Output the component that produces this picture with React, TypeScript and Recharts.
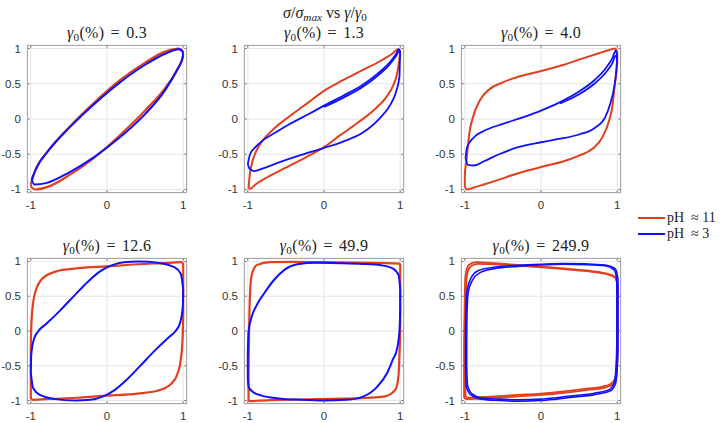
import { CartesianGrid, Line, LineChart, XAxis, YAxis } from "recharts";

type Pt = [number, number];

const amplitudes = ["0.3", "1.3", "4.0", "12.6", "49.9", "249.9"];
const seriesNames = ["pH \u2248 11", "pH \u2248 3"];
const xTicks = [-1, 0, 1];
const yTicks = [-1, -0.5, 0, 0.5, 1];

// pH ≈ 11 (red) / pH ≈ 3 (blue); each loop split into strain-up and strain-down branches
const hi03Up: Pt[] = [[-1, -0.93], [-0.94, -0.73], [-0.77, -0.45], [-0.5, -0.12], [-0.17, 0.23], [0.17, 0.55], [0.5, 0.8], [0.77, 0.96], [0.94, 1], [0.99, 0.97], [1, 0.93]];
const hi03Down: Pt[] = [[1, 0.93], [0.99, 0.85], [0.94, 0.73], [0.77, 0.45], [0.5, 0.12], [0.17, -0.23], [-0.17, -0.55], [-0.5, -0.8], [-0.77, -0.96], [-0.94, -1], [-0.99, -0.97], [-1, -0.93]];
const lo03Up: Pt[] = [[-0.99, -0.86], [-0.93, -0.7], [-0.77, -0.45], [-0.5, -0.13], [-0.17, 0.21], [0.17, 0.52], [0.5, 0.77], [0.77, 0.93], [0.94, 0.99], [0.99, 0.96], [1, 0.9]];
const lo03Down: Pt[] = [[1, 0.9], [0.98, 0.83], [0.93, 0.72], [0.77, 0.42], [0.5, 0.07], [0.17, -0.26], [-0.17, -0.54], [-0.5, -0.76], [-0.8, -0.91], [-0.95, -0.93], [-0.99, -0.86]];

const hi13Up: Pt[] = [[-0.99, -0.99], [-0.98, -0.85], [-0.95, -0.65], [-0.9, -0.48], [-0.8, -0.3], [-0.65, -0.13], [-0.45, 0.04], [-0.2, 0.24], [0, 0.4], [0.25, 0.55], [0.5, 0.69], [0.75, 0.83], [0.9, 0.93], [0.97, 0.99], [1, 0.97]];
const hi13Down: Pt[] = [[1, 0.97], [0.99, 0.85], [0.96, 0.65], [0.91, 0.48], [0.81, 0.3], [0.66, 0.13], [0.46, -0.04], [0.2, -0.24], [0, -0.4], [-0.25, -0.55], [-0.5, -0.69], [-0.75, -0.83], [-0.9, -0.93], [-0.97, -0.99], [-0.99, -0.99]];
const lo13Up: Pt[] = [[-1, -0.64], [-0.97, -0.5], [-0.9, -0.4], [-0.8, -0.3], [-0.65, -0.2], [-0.45, -0.07], [-0.2, 0.07], [0, 0.19], [0.25, 0.33], [0.5, 0.48], [0.7, 0.64], [0.85, 0.79], [0.95, 0.93], [0.98, 0.99], [1, 0.95]];
const lo13Down: Pt[] = [[1, 0.95], [0.995, 0.8], [0.99, 0.6], [0.95, 0.4], [0.87, 0.2], [0.74, 0.02], [0.5, -0.2], [0.25, -0.32], [0, -0.41], [-0.3, -0.51], [-0.6, -0.62], [-0.8, -0.7], [-0.92, -0.74], [-0.98, -0.7], [-1, -0.64]];
const lo13Up2: Pt[] = [[0, 0.17], [0.25, 0.3], [0.5, 0.45], [0.7, 0.61], [0.85, 0.76], [0.95, 0.9], [0.99, 0.97], [1, 0.95]];

const hi40Up: Pt[] = [[-1, -0.96], [-1, -0.8], [-0.98, -0.6], [-0.96, -0.4], [-0.94, -0.2], [-0.9, 0], [-0.8, 0.27], [-0.68, 0.42], [-0.5, 0.52], [-0.3, 0.6], [0, 0.68], [0.3, 0.77], [0.55, 0.86], [0.75, 0.93], [0.9, 0.98], [0.97, 1], [1, 0.96]];
const hi40Down: Pt[] = [[1, 0.96], [1, 0.8], [0.98, 0.6], [0.96, 0.4], [0.94, 0.2], [0.9, 0], [0.8, -0.27], [0.68, -0.42], [0.5, -0.52], [0.3, -0.6], [0, -0.68], [-0.3, -0.77], [-0.55, -0.86], [-0.75, -0.93], [-0.9, -0.98], [-0.97, -1], [-1, -0.96]];
const lo40Up: Pt[] = [[-0.99, -0.55], [-0.97, -0.4], [-0.9, -0.28], [-0.75, -0.17], [-0.5, -0.07], [-0.25, 0.02], [0, 0.12], [0.25, 0.24], [0.5, 0.39], [0.7, 0.55], [0.85, 0.72], [0.94, 0.87], [0.98, 0.97], [1, 0.9]];
const lo40Down: Pt[] = [[1, 0.9], [0.99, 0.7], [0.96, 0.45], [0.91, 0.22], [0.84, 0.02], [0.7, -0.13], [0.5, -0.22], [0.25, -0.28], [0, -0.33], [-0.3, -0.4], [-0.55, -0.5], [-0.75, -0.6], [-0.88, -0.66], [-0.96, -0.65], [-0.99, -0.55]];
const lo40Up2: Pt[] = [[0.25, 0.22], [0.5, 0.35], [0.7, 0.5], [0.85, 0.66], [0.94, 0.8], [0.98, 0.9], [1, 0.86]];

const hi126Up: Pt[] = [[-1, -0.98], [-1, -0.6], [-1, -0.2], [-0.99, 0.15], [-0.97, 0.4], [-0.93, 0.6], [-0.85, 0.75], [-0.66, 0.86], [-0.4, 0.9], [0, 0.93], [0.4, 0.96], [0.8, 0.98], [0.96, 0.99], [1, 0.98]];
const hi126Down: Pt[] = [[1, 0.98], [1, 0.6], [1, 0.2], [0.99, -0.15], [0.97, -0.4], [0.93, -0.6], [0.85, -0.75], [0.66, -0.86], [0.4, -0.9], [0, -0.93], [-0.4, -0.96], [-0.8, -0.98], [-0.96, -0.99], [-1, -0.98]];
const lo126Up: Pt[] = [[-1, -0.6], [-0.995, -0.35], [-0.96, -0.12], [-0.9, 0], [-0.8, 0.1], [-0.62, 0.29], [-0.42, 0.52], [-0.24, 0.72], [-0.1, 0.85], [0.05, 0.94], [0.22, 0.99], [0.42, 1], [0.68, 0.98], [0.88, 0.92], [0.97, 0.82], [1, 0.6]];
const lo126Down: Pt[] = [[1, 0.6], [0.995, 0.35], [0.96, 0.12], [0.9, 0], [0.8, -0.1], [0.62, -0.29], [0.42, -0.52], [0.24, -0.72], [0.1, -0.85], [-0.05, -0.94], [-0.22, -0.99], [-0.42, -1], [-0.68, -0.98], [-0.88, -0.92], [-0.97, -0.82], [-1, -0.6]];

const hi499Up: Pt[] = [[-0.99, -1.01], [-0.99, -0.6], [-0.985, -0.2], [-0.98, 0.2], [-0.97, 0.55], [-0.95, 0.8], [-0.88, 0.95], [-0.7, 0.99], [-0.4, 0.995], [0, 0.99], [0.4, 0.985], [0.8, 0.975], [1, 0.97]];
const hi499Down: Pt[] = [[1, 0.97], [1, 0.7], [1, 0.35], [1, 0], [0.99, -0.35], [0.98, -0.62], [0.94, -0.84], [0.8, -0.94], [0.5, -0.965], [0.1, -0.975], [-0.3, -0.985], [-0.7, -0.995], [-0.99, -1.01]];
const lo499Up: Pt[] = [[-1, -0.7], [-1, -0.35], [-0.99, 0], [-0.95, 0.2], [-0.88, 0.38], [-0.78, 0.55], [-0.66, 0.73], [-0.52, 0.88], [-0.35, 0.96], [-0.1, 0.98], [0.2, 0.975], [0.5, 0.965], [0.75, 0.945], [0.9, 0.9], [0.98, 0.8], [1, 0.6]];
const lo499Down: Pt[] = [[1, 0.6], [1, 0.3], [0.99, 0], [0.96, -0.25], [0.9, -0.42], [0.83, -0.6], [0.7, -0.8], [0.52, -0.94], [0.3, -0.99], [0, -1], [-0.3, -0.99], [-0.6, -0.97], [-0.82, -0.93], [-0.94, -0.87], [-0.99, -0.8], [-1, -0.7]];

const hi2499Up: Pt[] = [[-1.01, -0.96], [-1.01, -0.6], [-1.01, -0.2], [-1.005, 0.2], [-1, 0.55], [-0.99, 0.8], [-0.95, 0.95], [-0.85, 0.99], [-0.6, 0.975], [-0.3, 0.95], [0, 0.925], [0.3, 0.9], [0.6, 0.87], [0.85, 0.83], [0.97, 0.78], [1.01, 0.65]];
const hi2499Down: Pt[] = [[1.01, 0.65], [1.01, 0.3], [1.01, -0.05], [1.005, -0.4], [0.99, -0.65], [0.95, -0.76], [0.85, -0.81], [0.6, -0.85], [0.3, -0.89], [0, -0.92], [-0.3, -0.94], [-0.6, -0.96], [-0.85, -0.975], [-0.97, -0.98], [-1.01, -0.96]];
const hi2499Up2: Pt[] = [[-0.99, -0.95], [-0.995, -0.6], [-0.995, -0.2], [-0.99, 0.2], [-0.985, 0.55], [-0.975, 0.78], [-0.93, 0.92], [-0.83, 0.965], [-0.6, 0.96], [-0.3, 0.94], [0, 0.915], [0.3, 0.89], [0.6, 0.86], [0.85, 0.82], [0.97, 0.77], [1.01, 0.65]];
const hi2499Down2: Pt[] = [[1.01, 0.65], [1.01, 0.3], [1.01, -0.05], [1, -0.4], [0.985, -0.63], [0.94, -0.74], [0.85, -0.79], [0.6, -0.83], [0.3, -0.87], [0, -0.9], [-0.3, -0.92], [-0.6, -0.94], [-0.85, -0.955], [-0.96, -0.96], [-0.99, -0.95]];
const lo2499Up: Pt[] = [[-0.99, -0.5], [-0.99, -0.1], [-0.985, 0.3], [-0.97, 0.58], [-0.92, 0.76], [-0.82, 0.87], [-0.6, 0.92], [-0.3, 0.945], [0, 0.96], [0.3, 0.97], [0.6, 0.965], [0.84, 0.95], [0.97, 0.9], [1.01, 0.75], [1.01, 0.5]];
const lo2499Down: Pt[] = [[1.01, 0.5], [1.01, 0.15], [1.01, -0.2], [1, -0.5], [0.98, -0.75], [0.91, -0.86], [0.7, -0.915], [0.45, -0.95], [0.2, -0.98], [0, -1], [-0.3, -1.01], [-0.55, -1], [-0.78, -0.98], [-0.92, -0.92], [-0.98, -0.8], [-0.99, -0.5]];
const lo2499Up2: Pt[] = [[-0.975, -0.5], [-0.975, -0.1], [-0.97, 0.3], [-0.955, 0.56], [-0.9, 0.73], [-0.8, 0.84], [-0.6, 0.9], [-0.3, 0.93], [0, 0.95], [0.3, 0.96], [0.6, 0.955], [0.84, 0.94], [0.96, 0.88], [0.995, 0.74], [0.995, 0.5]];
const lo2499Down2: Pt[] = [[0.995, 0.5], [0.995, 0.15], [0.995, -0.2], [0.985, -0.5], [0.965, -0.73], [0.9, -0.84], [0.7, -0.895], [0.45, -0.93], [0.2, -0.96], [0, -0.98], [-0.3, -0.99], [-0.55, -0.98], [-0.78, -0.96], [-0.91, -0.9], [-0.965, -0.78], [-0.975, -0.5]];

const RED = "#e2401c";
const BLUE = "#1010ff";
const BOX_W = 160;
const PAD_L = 30;
const PAD_T = 2;
const PAD_B = 24;
const DOMAIN: [number, number] = [-1.05, 1.05];
const cols = [27, 244, 461];
const rows = [{ top: 45, h: 148 }, { top: 258, h: 146 }];

const panels = [
  { red: [hi03Up, hi03Down], blue: [lo03Up, lo03Down], w: 2 },
  { red: [hi13Up, hi13Down], blue: [lo13Up, lo13Down, lo13Up2], w: 1.8 },
  { red: [hi40Up, hi40Down], blue: [lo40Up, lo40Down, lo40Up2], w: 1.8 },
  { red: [hi126Up, hi126Down], blue: [lo126Up, lo126Down], w: 2 },
  { red: [hi499Up, hi499Down], blue: [lo499Up, lo499Down], w: 2 },
  { red: [hi2499Up, hi2499Down, hi2499Up2, hi2499Down2], blue: [lo2499Up, lo2499Down, lo2499Up2, lo2499Down2], w: 1.6 },
];

const toRows = (pts: Pt[]) => pts.map(([x, y]) => ({ x, y }));
const serif = '"Liberation Serif", "Times New Roman", serif';
const sans = '"Liberation Sans", Arial, sans-serif';
const subStyle = { fontSize: "0.7em", position: "relative" as const, top: "0.25em" };

function AmpTitle({ amp }: { amp: string }) {
  return (
    <span style={{ wordSpacing: 2 }}>
      <i>γ</i>
      <span style={subStyle}>0</span>
      (%) = {amp}
    </span>
  );
}

function Panel({ left, top, h, red, blue, amp, w }: any) {
  const XTick = ({ x, y, payload }: any) => (
    <g>
      <line x1={x} x2={x} y1={y} y2={y - 2.5} stroke="#666" />
      <line x1={x} x2={x} y1={y - h} y2={y - h + 2.5} stroke="#666" />
      <text x={x} y={y + 16} textAnchor="middle" fontSize={11.5} fontFamily={sans} fill="#333">
        {payload.value}
      </text>
    </g>
  );
  const YTick = ({ x, y, payload }: any) => (
    <g>
      <line x1={x} x2={x + 2.5} y1={y} y2={y} stroke="#666" />
      <line x1={x + BOX_W} x2={x + BOX_W - 2.5} y1={y} y2={y} stroke="#666" />
      <text x={x - 6} y={y + 4} textAnchor="end" fontSize={11.5} fontFamily={sans} fill="#333">
        {payload.value}
      </text>
    </g>
  );
  return (
    <>
      <div
        style={{
          position: "absolute",
          left,
          top: top - 21,
          width: BOX_W,
          height: 18,
          lineHeight: "18px",
          textAlign: "center",
          fontFamily: serif,
          fontSize: 16,
          letterSpacing: 0.3,
          color: "#222",
          whiteSpace: "nowrap",
        }}
      >
        <AmpTitle amp={amp} />
      </div>
      <div style={{ position: "absolute", left: left - PAD_L, top: top - PAD_T }}>
        <LineChart
          width={PAD_L + BOX_W + 2}
          height={PAD_T + h + PAD_B}
          margin={{ top: PAD_T, right: 2, bottom: 0, left: 0 }}
        >
          <CartesianGrid stroke="#e4e4ec" />
          <XAxis
            type="number"
            dataKey="x"
            domain={DOMAIN}
            ticks={xTicks}
            interval={0}
            allowDataOverflow
            height={PAD_B}
            axisLine={false}
            tickLine={false}
            tickSize={0}
            tickMargin={0}
            tick={<XTick />}
          />
          <YAxis
            type="number"
            dataKey="y"
            domain={DOMAIN}
            ticks={yTicks}
            interval={0}
            allowDataOverflow
            width={PAD_L}
            axisLine={false}
            tickLine={false}
            tickSize={0}
            tickMargin={0}
            tick={<YTick />}
          />
          {red.map((b: Pt[], i: number) => (
            <Line key={"r" + i} data={toRows(b)} dataKey="y" type="monotone" stroke={RED} strokeWidth={w + 0.2} dot={false} isAnimationActive={false} />
          ))}
          {blue.map((b: Pt[], i: number) => (
            <Line key={"b" + i} data={toRows(b)} dataKey="y" type="monotone" stroke={BLUE} strokeWidth={w} dot={false} isAnimationActive={false} />
          ))}
        </LineChart>
      </div>
      <div
        style={{
          position: "absolute",
          left,
          top,
          width: BOX_W,
          height: h,
          border: "1px solid #a8a8a8",
          boxSizing: "border-box",
          pointerEvents: "none",
        }}
      />
    </>
  );
}

export default function App() {
  return (
    <div style={{ position: "absolute", left: 0, top: 0, width: 720, height: 423, background: "#fff" }}>
      <div
        style={{
          position: "absolute",
          left: 205,
          top: 3,
          width: 240,
          height: 19,
          lineHeight: "19px",
          textAlign: "center",
          fontFamily: serif,
          fontSize: 16,
          color: "#222",
          whiteSpace: "nowrap",
        }}
      >
        <i>σ</i>/<i>σ</i>
        <i style={subStyle}>max</i>
        {" vs "}
        <i>γ</i>/<i>γ</i>
        <span style={subStyle}>0</span>
      </div>
      {panels.map((p, i) => (
        <Panel
          key={i}
          left={cols[i % 3]}
          top={rows[Math.floor(i / 3)].top}
          h={rows[Math.floor(i / 3)].h}
          red={p.red}
          blue={p.blue}
          w={p.w}
          amp={amplitudes[i]}
        />
      ))}
      {[RED, BLUE].map((c, i) => (
        <div
          key={c}
          style={{
            position: "absolute",
            left: 638,
            top: 210 + i * 16,
            height: 16,
            display: "flex",
            alignItems: "center",
            fontFamily: serif,
            fontSize: 14,
            color: "#222",
            whiteSpace: "pre",
          }}
        >
          <span style={{ display: "inline-block", width: 27, height: 2, background: c, marginRight: 2 }} />
          {seriesNames[i].replace(" ", "  ")}
        </div>
      ))}
    </div>
  );
}
